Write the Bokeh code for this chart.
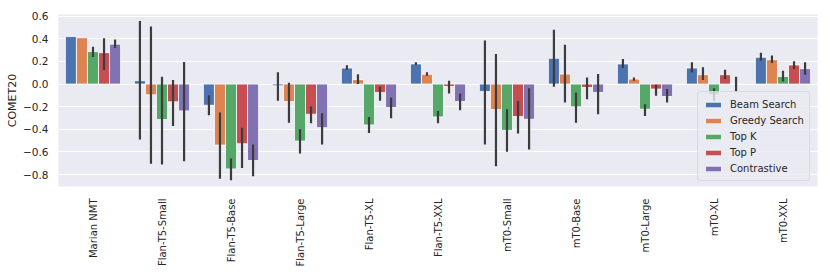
import math
from bokeh.plotting import figure
from bokeh.models import (ColumnDataSource, FactorRange, Range1d, FixedTicker,
                          CustomJSTickFormatter, Legend, LegendItem)
from bokeh.transform import dodge
from bokeh.embed import file_html
from bokeh.resources import INLINE

models = ["Marian NMT", "Flan-T5-Small", "Flan-T5-Base", "Flan-T5-Large", "Flan-T5-XL",
          "Flan-T5-XXL", "mT0-Small", "mT0-Base", "mT0-Large", "mT0-XL", "mT0-XXL"]
methods = ["Beam Search", "Greedy Search", "Top K", "Top P", "Contrastive"]
colors = ["#4C72B0", "#DD8452", "#55A868", "#C44E52", "#8172B3"]
nan = float("nan")

beam = [0.42, 0.03, -0.187, -0.015, 0.142, 0.178, -0.065, 0.228, 0.178, 0.142, 0.237]
beam_lo = [nan, -0.489, -0.276, -0.148, 0.127, 0.169, -0.533, -0.024, 0.142, 0.104, 0.207]
beam_hi = [nan, 0.557, -0.098, 0.104, 0.166, 0.193, 0.385, 0.48, 0.222, 0.193, 0.276]

greedy = [0.41, -0.095, -0.539, -0.154, 0.039, 0.086, -0.225, 0.089, 0.044, 0.083, 0.216]
greedy_lo = [nan, -0.705, -0.836, -0.341, 0.0, 0.074, -0.726, -0.163, 0.03, 0.036, 0.187]
greedy_hi = [nan, 0.51, -0.252, 0.012, 0.086, 0.104, 0.267, 0.347, 0.059, 0.148, 0.252]

topk = [0.287, -0.314, -0.75, -0.504, -0.361, -0.29, -0.409, -0.201, -0.222, -0.095, 0.068]
topk_lo = [0.24, -0.711, -0.85, -0.613, -0.433, -0.347, -0.599, -0.341, -0.281, -0.148, 0.024]
topk_hi = [0.33, 0.065, -0.658, -0.4, -0.29, -0.237, -0.222, -0.074, -0.178, -0.036, 0.119]

topp = [0.278, -0.157, -0.527, -0.267, -0.074, -0.021, -0.287, -0.03, -0.044, 0.083, 0.169]
topp_lo = [0.124, -0.37, -0.741, -0.347, -0.148, -0.083, -0.436, -0.133, -0.104, 0.044, 0.133]
topp_hi = [0.405, 0.036, -0.385, -0.199, -0.024, 0.03, -0.148, 0.059, -0.006, 0.127, 0.201]

contrastive = [0.353, -0.237, -0.676, -0.385, -0.207, -0.154, -0.311, -0.074, -0.11, 0.0, 0.136]
contrastive_lo = [0.32, -0.681, -0.815, -0.533, -0.302, -0.231, -0.578, -0.267, -0.163, -0.068, 0.083]
contrastive_hi = [0.394, 0.196, -0.533, -0.258, -0.119, -0.083, -0.036, 0.089, -0.044, 0.065, 0.193]

y_ticks = [-0.8, -0.6, -0.4, -0.2, 0.0, 0.2, 0.4, 0.6]

series = [(beam, beam_lo, beam_hi), (greedy, greedy_lo, greedy_hi), (topk, topk_lo, topk_hi),
          (topp, topp_lo, topp_hi), (contrastive, contrastive_lo, contrastive_hi)]

data = {"model": models}
for i, (v, lo, hi) in enumerate(series):
    data[f"v{i}"] = v
    data[f"lo{i}"] = lo
    data[f"hi{i}"] = hi
source = ColumnDataSource(data)

FONT = "DejaVu Sans"
p = figure(x_range=FactorRange(*models), y_range=Range1d(-0.905, 0.615),
           frame_width=759, frame_height=172, output_backend="svg", toolbar_location=None,
           min_border_left=58, min_border_right=8, min_border_top=14, min_border_bottom=84)
p.background_fill_color = "#EAEAF2"
p.border_fill_color = "white"
p.outline_line_color = None

n = len(methods)
bw = 0.8 / n
items = []
for i, m in enumerate(methods):
    off = -0.4 + bw * (i + 0.5)
    r = p.vbar(x=dodge("model", off, range=p.x_range), top=f"v{i}", bottom=0, width=bw,
               source=source, fill_color=colors[i], line_color="white", line_width=0.8)
    items.append(LegendItem(label=m, renderers=[r]))
for i, m in enumerate(methods):
    off = -0.4 + bw * (i + 0.5)
    p.segment(x0=dodge("model", off, range=p.x_range), y0=f"lo{i}",
              x1=dodge("model", off, range=p.x_range), y1=f"hi{i}",
              source=source, line_color="#3c3c3c", line_width=2.2)

p.xgrid.grid_line_color = None
p.ygrid.grid_line_color = "white"
p.ygrid.grid_line_width = 1
p.yaxis.ticker = FixedTicker(ticks=y_ticks)
p.yaxis.formatter = CustomJSTickFormatter(code="return tick.toFixed(1).replace('-', '\u2212');")
for ax in (p.xaxis[0], p.yaxis[0]):
    ax.axis_line_color = None
    ax.major_tick_line_color = None
    ax.minor_tick_line_color = None
    ax.major_label_text_font = FONT
    ax.major_label_text_color = "#262626"
p.xaxis.major_label_text_font_size = "10px"
p.yaxis.major_label_text_font_size = "10.5px"
p.xaxis.major_label_orientation = math.pi / 2
p.xaxis.major_label_standoff = 6
p.yaxis.major_label_standoff = 4
p.xaxis.group_text_font_size = "0px"
p.yaxis.axis_label = "COMET20"
p.yaxis.axis_label_text_font = FONT
p.yaxis.axis_label_text_font_size = "11px"
p.yaxis.axis_label_text_font_style = "normal"
p.yaxis.axis_label_text_color = "#262626"
p.yaxis.axis_label_standoff = 1

legend = Legend(items=items, location=(639, 5), orientation="vertical",
                glyph_width=20, glyph_height=7, label_height=14, spacing=2,
                padding=5, margin=0, label_standoff=7,
                label_text_font=FONT, label_text_font_size="10px",
                label_text_color="#262626",
                border_line_color="#cccccc", border_line_width=1,
                border_radius=3,
                background_fill_color="#EAEAF2", background_fill_alpha=0.8)
p.add_layout(legend, "center")

open("out.html", "w").write(file_html(p, INLINE))
